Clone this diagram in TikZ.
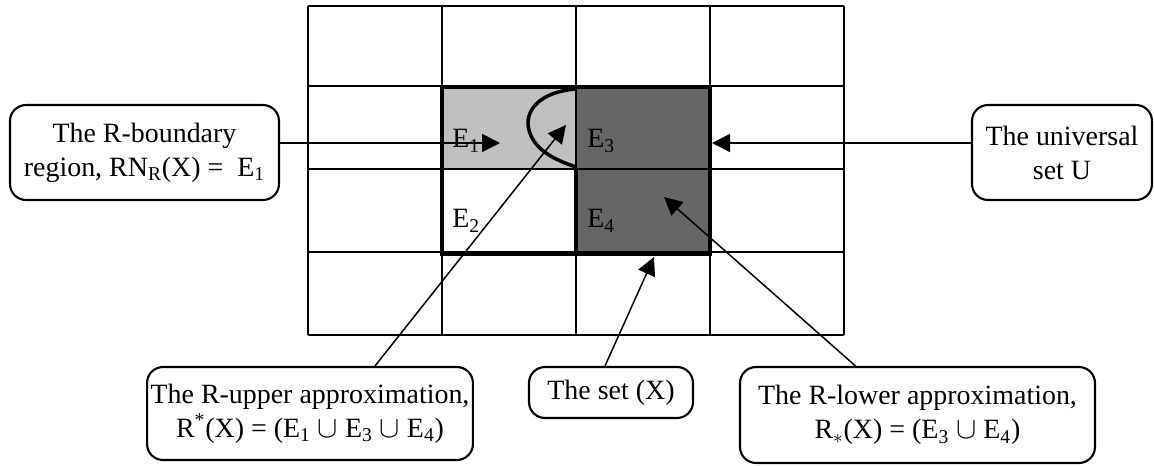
\documentclass[tikz,border=0pt]{standalone}
\usepackage{fontspec}
\setmainfont{Liberation Serif}
\usetikzlibrary{arrows.meta, calc}
\definecolor{bndC}{RGB}{192,192,192}
\definecolor{lowC}{RGB}{102,102,102}

\begin{document}
\begin{tikzpicture}[x=0.02cm, y=-0.02cm,
  font=\fontsize{15.9}{19.4}\selectfont,
  cell/.style={black, line width=0.85pt},
  edge/.style={black, line width=2pt},
  note/.style={draw, rounded corners=0.32cm, line width=1.2pt,
               align=center, inner sep=2pt},
  pointer/.style={-{Triangle[length=0.36cm, width=0.36cm]}, line width=0.85pt}]

\useasboundingbox (0,0) rectangle (1154,466);

% ============================================================
% Regions: boundary (light) and lower approximation (dark)
% ============================================================
\fill[bndC] (442,86) rectangle (576,169);
\fill[lowC] (576,86) rectangle (710,254);

% Grid of elementary sets
\foreach \x in {308,442,576,710,844}
  \draw[cell] (\x,6) -- (\x,335);
\foreach \y in {6,86,169,252,335}
  \draw[cell] (308,\y) -- (844,\y);

% Upper approximation outline
\draw[edge, line cap=rect] (442,250) -- (442,87) -- (710,87) -- (710,254) -- (442,254);
\draw[edge] (576,169) -- (576,254);

% The set X (curved edge)
\draw[edge] (576,89) .. controls (538,92) and (524,112) .. (529,130)
  .. controls (534,150) and (555,160) .. (576,167);

% Cell labels
\node[anchor=base west, inner sep=0pt] (e1) at (452,148) {E\textsubscript{1}};
\node[anchor=base west, inner sep=0pt] (e3) at (587,148) {E\textsubscript{3}};
\node[anchor=base west, inner sep=0pt] (e2) at (452,228) {E\textsubscript{2}};
\node[anchor=base west, inner sep=0pt] (e4) at (587,228) {E\textsubscript{4}};

% ============================================================
% Callouts
% ============================================================
\node[note, minimum width=5.38cm, minimum height=1.9cm] (bnd) at (144.5,152.5)
  {The R-boundary\\region, RN\textsubscript{R}(X) = \ E\textsubscript{1}};
\node[note, minimum width=3.6cm, minimum height=1.9cm] (univ) at (1062,152.5)
  {The universal\\set U};
\node[note, minimum width=6.48cm, minimum height=1.86cm] (upper) at (310,413.5)
  {The R-upper approximation,\\R\textsuperscript{*}(X) = (E\textsubscript{1} $\cup$ E\textsubscript{3} $\cup$ E\textsubscript{4})};
\node[note, minimum width=3.28cm, minimum height=1.02cm] (setx) at (611,392.5)
  {The set (X)};
\node[note, minimum width=7.1cm, minimum height=1.92cm] (lower) at (917.5,415)
  {The R-lower approximation,\\R\textsubscript{$\ast$}(X) = (E\textsubscript{3} $\cup$ E\textsubscript{4})};

% Arrow tips
\coordinate (tipB) at (500,143);
\coordinate (tipU) at (712,143);
\coordinate (tipUp) at (566,125);
\coordinate (tipX) at (654,257);
\coordinate (tipL) at (664,197);

\draw[pointer] (bnd.east |- tipB) -- (tipB);
\draw[pointer] (univ.west |- tipU) -- (tipU);
\draw[pointer] ($(upper.north)+(65,0)$) -- (tipUp);
\draw[pointer] ($(setx.north)+(-6,0)$) -- (tipX);
\draw[pointer] ($(lower.north)+(-62,0)$) -- (tipL);

\end{tikzpicture}
\end{document}
